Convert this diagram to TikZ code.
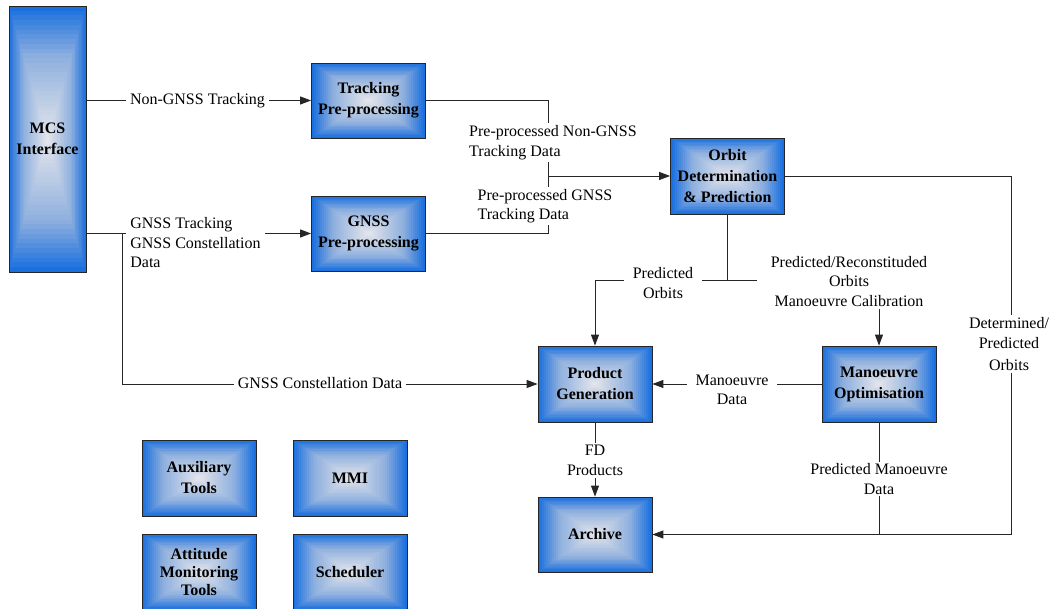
\documentclass[tikz,border=0pt]{standalone}
\usepackage{fontspec}
\setmainfont{LiberationSerif}[Extension=.ttf, UprightFont=*-Regular, BoldFont=*-Bold, ItalicFont=*-Italic, BoldItalicFont=*-BoldItalic]
\usetikzlibrary{calc,arrows.meta}
\definecolor{gblue}{RGB}{26,112,222}
\definecolor{gmid}{RGB}{140,174,222}
\definecolor{glight}{RGB}{226,228,234}
\tikzset{
  gradfill/.style={path picture={
    \foreach \gi in {0,...,27}{
      \pgfmathsetmacro\gt{\gi/28}
      \ifnum\gi<10
        \pgfmathtruncatemacro\gp{100-\gi*100/10}
        \colorlet{gcur}{gblue!\gp!gmid}
      \else
        \pgfmathtruncatemacro\gp{100-(\gi-10)*100/17}
        \colorlet{gcur}{gmid!\gp!glight}
      \fi
      \fill[gcur] ($(path picture bounding box.south west)!\gt!(path picture bounding box.center)$) rectangle ($(path picture bounding box.north east)!\gt!(path picture bounding box.center)$);
    }
  }},
  blk/.style={gradfill, draw=black!85, line width=0.8pt, inner sep=0pt,
    minimum width=114pt, minimum height=76pt,
    font=\bfseries\fontsize{16}{21}\selectfont, align=center},
  lbl/.style={fill=white, inner xsep=4pt, inner ysep=2pt,
    font=\fontsize{16}{19.5}\selectfont, align=center},
  conn/.style={line width=0.9pt, draw=black!85},
  arr/.style={conn, -{Triangle[length=11pt,width=8pt]}},
}
\begin{document}
\begin{tikzpicture}[x=1pt,y=-1pt]
\useasboundingbox[fill=white] (0,0) rectangle (1053,609);

% boxes
\node[blk, minimum width=77pt, minimum height=266pt] (mcs) at (47.5,139) {MCS\\Interface};
\node[blk, minimum height=75pt] (tp) at (368.5,100.5) {Tracking\\Pre-processing};
\node[blk, minimum height=75pt] (gp) at (368.5,233.5) {GNSS\\Pre-processing};
\node[blk] (od) at (727.5,176) {Orbit\\Determination\\\& Prediction};
\node[blk] (pg) at (595,384) {Product\\Generation};
\node[blk] (mo) at (879,384) {Manoeuvre\\Optimisation};
\node[blk, minimum height=75pt] (ar) at (595,534.5) {Archive};
\node[blk] (aux) at (199,478) {Auxiliary\\Tools};
\node[blk] (mmi) at (350,478) {MMI};
\node[blk, font=\bfseries\fontsize{16}{18}\selectfont] (att) at (199,572) {Attitude\\Monitoring\\Tools};
\node[blk] (sch) at (350,572) {Scheduler};

% junction coordinates
\coordinate (j1) at (122,233.5);
\coordinate (j2) at (548,176);
\coordinate (j3) at (727.5,280);
\coordinate (rr) at (1011,534.5);

% connectors
\draw[arr] (tp.west -| mcs.east) -- (tp.west);
\draw[arr] (gp.west -| mcs.east) -- (gp.west);
\draw[arr] (j1) |- (pg.west);
\draw[conn] (tp.east) -| (j2);
\draw[conn] (gp.east) -| (j2);
\draw[arr] (j2) -- (od.west);
\draw[arr] (od.east) -| (rr) -- (ar.east);
\draw[conn] (od.south) -- (j3);
\draw[arr] (j3) -| (pg.north);
\draw[arr] (j3) -| (mo.north);
\draw[arr] (mo.west) -- (pg.east);
\draw[conn] (mo.south) -- (mo.south |- ar.east);
\draw[arr] (pg.south) -- (ar.north);

% labels
\node[lbl] (l1) at (197.5,101) {Non-GNSS Tracking};
\node[lbl, align=left] (l2) at (195.5,243) {GNSS Tracking\\GNSS Constellation\\Data};
\node[lbl] (l3) at (320,383.5) {GNSS Constellation Data};
\node[lbl, align=left] (l4) at (553,142.5) {Pre-processed Non-GNSS\\Tracking Data};
\node[lbl, align=left] (l5) at (545,206) {Pre-processed GNSS\\Tracking Data};
\node[lbl, inner xsep=9pt] (l6) at (663,283) {Predicted\\Orbits};
\node[lbl, inner xsep=14pt] (l7) at (849,281.5) {Predicted/Reconstituded\\Orbits\\Manoeuvre Calibration};
\node[lbl, inner xsep=9pt] (l8) at (732,390) {Manoeuvre\\Data};
\node[lbl] (l9) at (595,460.5) {FD\\Products};
\node[lbl] (l10) at (879,479) {Predicted Manoeuvre\\Data};
\node[lbl] (l11) at (1009,344) {Determined/\\[1pt]Predicted\\[2pt]Orbits};
\end{tikzpicture}
\end{document}
